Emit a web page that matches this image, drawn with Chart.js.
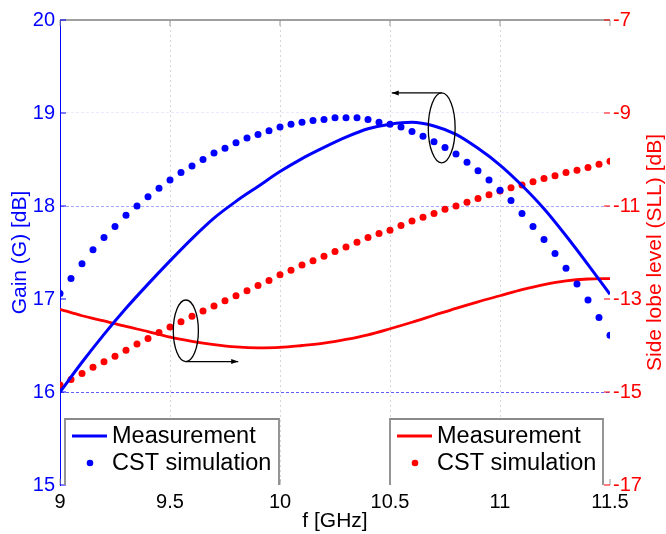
<!DOCTYPE html>
<html>
<head>
<meta charset="utf-8">
<script src="https://cdn.jsdelivr.net/npm/chart.js@4.4.1/dist/chart.umd.min.js"></script>
<style>
html,body{margin:0;padding:0;background:#fff;}
canvas{display:block;}
</style>
</head>
<body>
<canvas id="c" width="666" height="534"></canvas>
<script>
// ---- data ----
const freqDots = [9.00,9.05,9.10,9.15,9.20,9.25,9.30,9.35,9.40,9.45,9.50,9.55,9.60,9.65,9.70,9.75,9.80,9.85,
  9.90,9.95,10.00,10.05,10.10,10.15,10.20,10.25,10.30,10.35,10.40,10.45,10.50,10.55,10.60,10.65,10.70,10.75,
  10.80,10.85,10.90,10.95,11.00,11.05,11.10,11.15,11.20,11.25,11.30,11.35,11.40,11.45,11.50];
const gainSim = [17.06,17.22,17.38,17.53,17.66,17.78,17.90,18.00,18.10,18.19,18.28,18.36,18.43,18.50,18.57,18.62,18.68,18.73,
  18.77,18.81,18.85,18.88,18.90,18.92,18.93,18.95,18.95,18.95,18.93,18.90,18.88,18.85,18.80,18.75,18.69,18.63,
  18.56,18.47,18.38,18.28,18.17,18.06,17.92,17.78,17.64,17.49,17.33,17.16,16.99,16.80,16.61];
const sllSim = [-14.85,-14.73,-14.60,-14.47,-14.35,-14.23,-14.10,-13.97,-13.85,-13.72,-13.60,-13.49,-13.37,-13.26,-13.15,-13.04,-12.93,-12.82,
  -12.71,-12.60,-12.48,-12.38,-12.27,-12.18,-12.08,-11.98,-11.88,-11.78,-11.68,-11.59,-11.52,-11.42,-11.32,-11.24,-11.16,-11.07,
  -11.00,-10.92,-10.84,-10.76,-10.68,-10.61,-10.55,-10.48,-10.41,-10.35,-10.28,-10.23,-10.17,-10.10,-10.04];
const freqLine = [9.0,9.1,9.2,9.3,9.4,9.5,9.6,9.7,9.8,9.9,10.0,10.1,10.2,10.3,10.4,10.5,10.6,10.7,10.8,10.9,11.0,11.1,11.2,11.3,11.4,11.5];
const gainMeas = [16.00,16.32,16.62,16.90,17.16,17.41,17.65,17.87,18.05,18.21,18.37,18.51,18.63,18.74,18.83,18.88,18.90,18.86,18.77,18.62,18.44,18.22,17.97,17.68,17.37,17.05];
const sllMeas = [-13.22,-13.36,-13.47,-13.59,-13.70,-13.82,-13.91,-13.98,-14.03,-14.05,-14.04,-14.00,-13.95,-13.87,-13.77,-13.64,-13.50,-13.35,-13.20,-13.06,-12.93,-12.80,-12.69,-12.61,-12.57,-12.56];
const xTicks = [9, 9.5, 10, 10.5, 11, 11.5];
const gainTicks = [15, 16, 17, 18, 19, 20];
const sllTicks = [-17, -15, -13, -11, -9, -7];
const legendLabels = ['Measurement', 'CST simulation'];
const rightTitle = 'Side lobe level (SLL) [dB]';

const BLUE = '#0000ff', RED = '#ff0000';
const FONT = '"Liberation Sans", Arial, sans-serif';
const pts = (xs, ys) => xs.map((x, i) => ({x, y: ys[i]}));

// annotation ellipses (in data units)
const ellipses = [
  {cx: 10.735, cy: 18.84, rx: 0.061, ry: 0.376, arrowFrom: 'top', arrowTo: 10.508},
  {cx: 9.572, cy: 16.658, rx: 0.057, ry: 0.331, arrowFrom: 'bottom', arrowTo: 9.81}
];

const decorPlugin = {
  id: 'decor',
  beforeDatasetsDraw(chart) {
    const {ctx, chartArea: a, scales} = chart;
    ctx.save();
    ctx.strokeStyle = '#808080'; ctx.lineWidth = 1.5;
    ctx.beginPath(); ctx.moveTo(a.left, a.top); ctx.lineTo(a.right, a.top); ctx.stroke();
    ctx.strokeStyle = '#999'; ctx.lineWidth = 1;
    xTicks.forEach(v => {
      const x = scales.x.getPixelForValue(v);
      ctx.beginPath(); ctx.moveTo(x, a.top); ctx.lineTo(x, a.top + 6); ctx.stroke();
      ctx.beginPath(); ctx.moveTo(x, a.bottom); ctx.lineTo(x, a.bottom - 6); ctx.stroke();
    });
    ctx.strokeStyle = BLUE;
    gainTicks.forEach(v => {
      const y = scales.y.getPixelForValue(v);
      ctx.beginPath(); ctx.moveTo(a.left, y); ctx.lineTo(a.left + 6, y); ctx.stroke();
    });
    ctx.strokeStyle = RED;
    sllTicks.forEach(v => {
      const y = scales.y1.getPixelForValue(v);
      ctx.beginPath(); ctx.moveTo(a.right, y); ctx.lineTo(a.right - 6, y); ctx.stroke();
    });
    // right axis title, reading bottom-to-top
    ctx.save();
    ctx.translate(a.right + 45, (a.top + a.bottom) / 2);
    ctx.rotate(-Math.PI / 2);
    ctx.fillStyle = RED; ctx.font = '21px ' + FONT; ctx.textAlign = 'center'; ctx.textBaseline = 'middle';
    ctx.fillText(rightTitle, 0, 0);
    ctx.restore();
    ctx.restore();
  },
  afterDatasetsDraw(chart) {
    const {ctx, chartArea: a, scales} = chart;
    ctx.save();
    ctx.strokeStyle = '#000'; ctx.fillStyle = '#000'; ctx.lineWidth = 1.3;
    ellipses.forEach(e => {
      const cx = scales.x.getPixelForValue(e.cx), cy = scales.y.getPixelForValue(e.cy);
      const rx = Math.abs(scales.x.getPixelForValue(e.cx + e.rx) - cx);
      const ry = Math.abs(scales.y.getPixelForValue(e.cy + e.ry) - cy);
      ctx.beginPath(); ctx.ellipse(cx, cy, rx, ry, 0, 0, Math.PI * 2); ctx.stroke();
      const ay = e.arrowFrom === 'top' ? cy - ry : cy + ry;
      const ax = scales.x.getPixelForValue(e.arrowTo);
      ctx.beginPath(); ctx.moveTo(cx, ay); ctx.lineTo(ax, ay); ctx.stroke();
      const dir = ax < cx ? -1 : 1;
      ctx.beginPath(); ctx.moveTo(ax, ay); ctx.lineTo(ax - dir * 7, ay - 2.5); ctx.lineTo(ax - dir * 7, ay + 2.5); ctx.closePath(); ctx.fill();
    });
    const boxes = [
      {l: a.left + 5, r: a.left + 219, color: BLUE},
      {l: a.right - 220, r: a.right - 7, color: RED}
    ];
    boxes.forEach(b => {
      const top = a.bottom - 66;
      ctx.fillStyle = '#fff';
      ctx.fillRect(b.l, top, b.r - b.l, a.bottom - top);
      ctx.strokeStyle = '#8a8a8a'; ctx.lineWidth = 1.8;
      ctx.beginPath(); ctx.moveTo(b.l, a.bottom); ctx.lineTo(b.l, top); ctx.lineTo(b.r, top); ctx.lineTo(b.r, a.bottom); ctx.stroke();
      const y1 = top + 17, y2 = top + 44;
      ctx.strokeStyle = b.color; ctx.lineWidth = 3;
      ctx.beginPath(); ctx.moveTo(b.l + 7, y1); ctx.lineTo(b.l + 42, y1); ctx.stroke();
      ctx.fillStyle = b.color;
      ctx.beginPath(); ctx.arc(b.l + 25, y2, 3.3, 0, Math.PI * 2); ctx.fill();
      ctx.fillStyle = '#000'; ctx.font = '23.5px ' + FONT; ctx.textBaseline = 'middle'; ctx.textAlign = 'left';
      ctx.fillText(legendLabels[0], b.l + 47, y1 + 1);
      ctx.fillText(legendLabels[1], b.l + 47, y2 + 1);
    });
    ctx.restore();
  }
};

const gainGridColor = (ctx) => {
  const v = ctx.tick && ctx.tick.value;
  if (v === 16) return 'rgba(40,40,255,0.75)';
  if (v === 18) return 'rgba(60,60,255,0.45)';
  if (v === 19) return 'rgba(80,80,255,0.12)';
  return 'rgba(0,0,0,0)';
};
const xGridColor = (ctx) => {
  const v = ctx.tick && ctx.tick.value;
  return (v > 9 && v < 11.5) ? 'rgba(0,0,0,0.16)' : 'rgba(0,0,0,0)';
};

new Chart(document.getElementById('c'), {
  type: 'line',
  data: {
    datasets: [
      {label: 'Measurement', data: pts(freqLine, gainMeas), yAxisID: 'y', borderColor: BLUE, borderWidth: 3, pointRadius: 0, cubicInterpolationMode: 'monotone', fill: false},
      {label: 'CST simulation', data: pts(freqDots, gainSim), yAxisID: 'y', showLine: false, pointRadius: 3.5, pointBorderWidth: 0, pointBackgroundColor: BLUE, borderColor: BLUE},
      {label: 'Measurement', data: pts(freqLine, sllMeas), yAxisID: 'y1', borderColor: RED, borderWidth: 2.8, pointRadius: 0, cubicInterpolationMode: 'monotone', fill: false},
      {label: 'CST simulation', data: pts(freqDots, sllSim), yAxisID: 'y1', showLine: false, pointRadius: 3.5, pointBorderWidth: 0, pointBackgroundColor: RED, borderColor: RED}
    ]
  },
  options: {
    responsive: false,
    animation: false,
    devicePixelRatio: 1,
    layout: {padding: {top: 20, left: 0, right: 0, bottom: 0}},
    plugins: {legend: {display: false}, tooltip: {enabled: false}},
    scales: {
      x: {
        type: 'linear', position: 'bottom', min: 9, max: 11.5,
        afterBuildTicks: s => { s.ticks = xTicks.map(v => ({value: v})); },
        afterFit: s => { s.height = 49; },
        ticks: {color: '#000', font: {family: FONT, size: 20}, padding: 5, maxRotation: 0, callback: v => String(v)},
        grid: {color: xGridColor, drawTicks: false, lineWidth: 1},
        border: {display: false, dash: [2, 3]},
        title: {display: true, text: 'f [GHz]', color: '#000', font: {family: FONT, size: 21}, padding: {top: 0, bottom: 0}}
      },
      y: {
        type: 'linear', position: 'left', min: 15, max: 20,
        afterBuildTicks: s => { s.ticks = gainTicks.map(v => ({value: v})); },
        afterFit: s => { s.width = 60; },
        ticks: {color: BLUE, font: {family: FONT, size: 20}, padding: 5},
        grid: {color: gainGridColor, drawTicks: false, lineWidth: 1},
        border: {display: true, color: BLUE, width: 1, dash: [3, 2]},
        title: {display: true, text: 'Gain (G) [dB]', color: BLUE, font: {family: FONT, size: 21}, padding: {top: 8, bottom: 0}}
      },
      y1: {
        type: 'linear', position: 'right', min: -17, max: -7,
        afterBuildTicks: s => { s.ticks = sllTicks.map(v => ({value: v})); },
        afterFit: s => { s.width = 56; },
        ticks: {color: RED, font: {family: FONT, size: 20}, padding: 3},
        grid: {drawOnChartArea: false, drawTicks: false},
        border: {display: false},
        title: {display: false}
      }
    }
  },
  plugins: [decorPlugin]
});
</script>
</body>
</html>
